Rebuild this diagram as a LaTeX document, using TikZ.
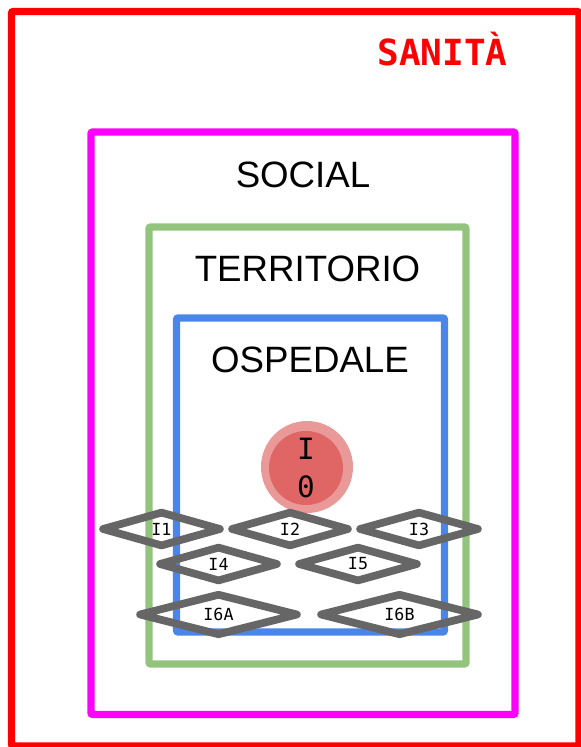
\documentclass[tikz,border=0pt]{standalone}
\usepackage{fontspec}
\setmainfont{Liberation Sans}
\newfontfamily\monofont{DejaVu Sans Mono}
\usetikzlibrary{shapes.geometric}
\definecolor{framered}{HTML}{FF0000}
\definecolor{framemag}{HTML}{FF00FF}
\definecolor{framegreen}{HTML}{93C47D}
\definecolor{frameblue}{HTML}{4A86E8}
\definecolor{rhombgray}{HTML}{666666}
\definecolor{coreinner}{HTML}{E06666}
\definecolor{coreouter}{HTML}{EA9999}
\tikzset{
  frame/.style={line width=5.6pt, rounded corners=1.5pt},
  area/.style={font=\fontsize{27.5}{30}\selectfont, anchor=base},
  rhomb/.style={diamond, draw=rhombgray, line width=5.8pt, line join=round,
    inner sep=0pt, font=\monofont\fontsize{12.5}{14}\selectfont},
}
\begin{document}
\begin{tikzpicture}[x=0.75pt, y=-0.75pt]
\useasboundingbox (0,0) rectangle (581,747);
\clip (0,0) rectangle (581,747);
% nested frames
\draw[frame, framered] (11.5,11.5) rectangle (579,746);
\draw[frame, framemag] (91,132) rectangle (515,714.5);
\draw[frame, framegreen] (149,227) rectangle (466,664);
\draw[frame, frameblue] (176.5,318) rectangle (444.5,632);
% titles
\node[anchor=base, text=framered, font=\monofont\bfseries\fontsize{27}{30}\selectfont] (sanita) at (442.5,65) {SANITÀ};
\node[area] (social) at (303,187) {SOCIAL};
\node[area] (territorio) at (307.5,281) {TERRITORIO};
\node[area] (ospedale) at (310,372) {OSPEDALE};
% central core
\fill[coreouter] (307,467) circle (46);
\node[circle, fill=coreinner, minimum size=74*0.75pt, inner sep=0pt, align=center,
  font=\monofont\fontsize{22}{28.5}\selectfont] (i0) at (306,468) {I\\0};
% rhombus markers
\node[rhomb, minimum width=120*0.75pt, minimum height=36*0.75pt] (i1) at (161.5,529) {I1};
\node[rhomb, minimum width=119*0.75pt, minimum height=36*0.75pt] (i2) at (290,529) {I2};
\node[rhomb, minimum width=121*0.75pt, minimum height=36*0.75pt] (i3) at (419,529) {I3};
\node[rhomb, minimum width=120*0.75pt, minimum height=36*0.75pt] (i4) at (218.5,564) {I4};
\node[rhomb, minimum width=121*0.75pt, minimum height=36*0.75pt] (i5) at (358,564) {I5};
\node[rhomb, minimum width=160*0.75pt, minimum height=38*0.75pt] (i6a) at (218.5,614.5) {I6A};
\node[rhomb, minimum width=160*0.75pt, minimum height=38*0.75pt] (i6b) at (399.5,614.5) {I6B};
\end{tikzpicture}
\end{document}
